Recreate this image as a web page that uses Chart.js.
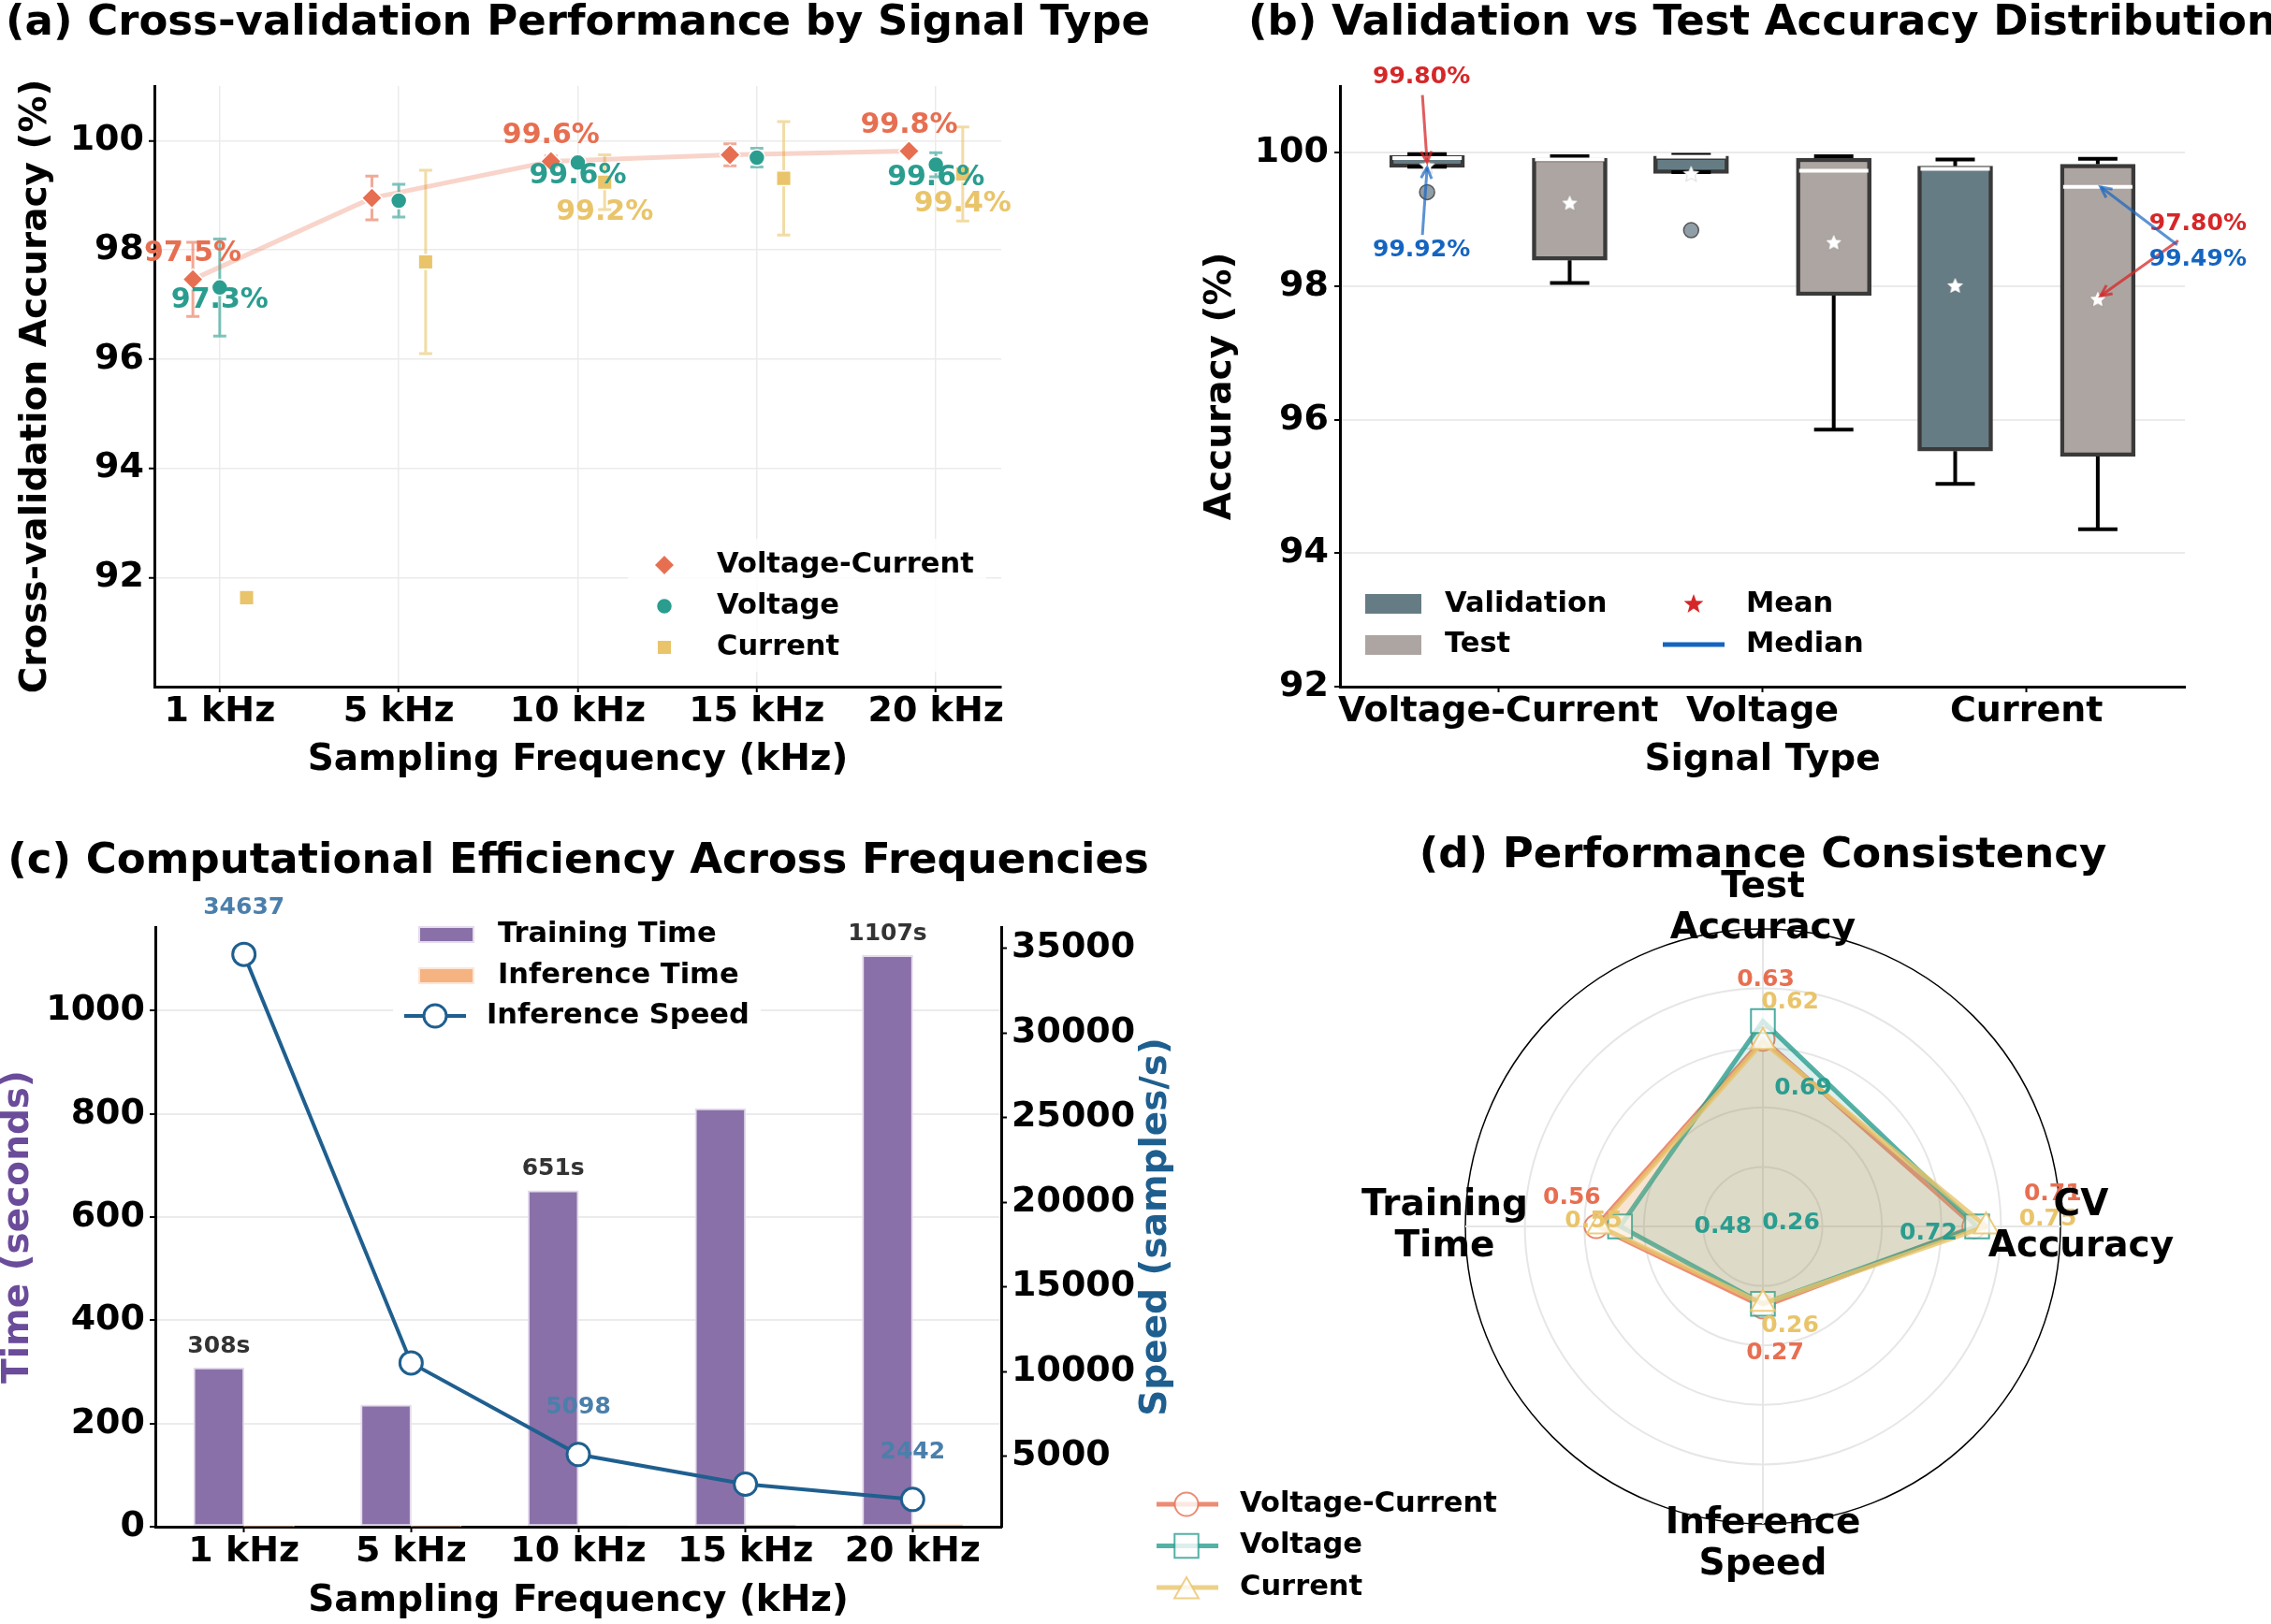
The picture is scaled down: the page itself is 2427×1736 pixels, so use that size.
<!DOCTYPE html>
<html lang="en">
<head>
<meta charset="utf-8">
<title>Signal type performance</title>
<script src="https://cdn.jsdelivr.net/npm/chart.js@4.4.1/dist/chart.umd.min.js"></script>
<style>
  html, body { margin: 0; padding: 0; background: #fff; }
  body { position: relative; width: 2427px; height: 1736px; overflow: hidden; }
  canvas { position: absolute; }
</style>
</head>
<body>
<canvas id="cvChart" width="1250" height="870" style="left:0;top:0"></canvas>
<canvas id="boxChart" width="1207" height="870" style="left:1220px;top:0"></canvas>
<canvas id="effChart" width="1280" height="856" style="left:0;top:880px"></canvas>
<canvas id="radarChart" width="1207" height="856" style="left:1220px;top:880px"></canvas>
<script>
// ---- data ----
const freqLabels = ['1 kHz', '5 kHz', '10 kHz', '15 kHz', '20 kHz'];
const signalTypes = ['Voltage-Current', 'Voltage', 'Current'];

// (a) cross-validation accuracy: mean and std per sampling frequency
const cvVoltageCurrent = [97.46, 98.95, 99.62, 99.74, 99.81];
const cvVoltageCurrentStd = [0.68, 0.40, 0.10, 0.20, 0.04];
const cvVoltage = [97.31, 98.90, 99.60, 99.69, 99.56];
const cvVoltageStd = [0.89, 0.30, 0.08, 0.17, 0.22];
const cvCurrent = [91.63, 97.78, 99.24, 99.31, 99.39];
const cvCurrentStd = [0, 1.68, 0.50, 1.04, 0.86];
const cvYTicks = [92, 94, 96, 98, 100];

// (b) box statistics per signal type
const valWhiskerLow = [99.79, 99.71, 95.04];
const valQ1 = [99.78, 99.69, 95.53];
const valMedian = [99.92, 99.94, 99.76];
const valQ3 = [99.96, 99.95, 99.80];
const valWhiskerHigh = [99.98, 99.97, 99.90];
const valMean = [99.80, 99.68, 98.00];
const valOutliers = [[99.41], [98.84], []];
const testWhiskerLow = [98.05, 95.85, 94.36];
const testQ1 = [98.39, 97.86, 95.45];
const testMedian = [99.90, 99.73, 99.49];
const testQ3 = [99.92, 99.92, 99.83];
const testWhiskerHigh = [99.95, 99.95, 99.91];
const testMean = [99.24, 98.65, 97.80];
const accYTicks = [92, 94, 96, 98, 100];

// (c) computational cost per sampling frequency
const trainingTime = [308, 236, 651, 810, 1107];
const inferenceTime = [0.9, 1.2, 2.1, 2.9, 4.3];
const inferenceSpeed = [34637, 10506, 5098, 3347, 2442];
const timeTicks = [0, 200, 400, 600, 800, 1000];
const speedTicks = [5000, 10000, 15000, 20000, 25000, 30000, 35000];

// (d) normalised consistency scores
const radarAxes = [['Test', 'Accuracy'], ['CV', 'Accuracy'], ['Inference', 'Speed'], ['Training', 'Time']];
const radarVoltageCurrent = [0.63, 0.71, 0.27, 0.56];
const radarVoltage = [0.69, 0.72, 0.26, 0.48];
const radarCurrent = [0.62, 0.75, 0.26, 0.55];

// ---- shared setup ----
const FONT = 'DejaVu Sans';
Chart.defaults.font.family = FONT;
Chart.defaults.font.weight = 'bold';
Chart.defaults.color = '#000';
Chart.defaults.animation = false;
Chart.defaults.responsive = false;
Chart.defaults.plugins.legend.display = false;
Chart.defaults.plugins.tooltip.enabled = false;

const GRID = '#ebebeb';
const TICK_FONT = { size: 38, lineHeight: 1.1 };
const COL_VC = '#E76F51', COL_V = '#2A9D8F', COL_C = '#E9C46A';
const rgba = (hex, a) => {
  const n = parseInt(hex.slice(1), 16);
  return `rgba(${n >> 16},${(n >> 8) & 255},${n & 255},${a})`;
};
const font = size => `bold ${size}px "${FONT}"`;
const fixedTicks = values => s => { s.ticks = values.map(v => ({ value: v })); };
const plain = v => String(v);

function drawMarker(ctx, style, radius, x, y, fill, stroke, lw) {
  ctx.save();
  ctx.fillStyle = fill;
  ctx.strokeStyle = stroke;
  ctx.lineWidth = lw;
  Chart.helpers.drawPoint(ctx, { pointStyle: style, radius, borderWidth: lw, rotation: 0 }, x, y);
  ctx.restore();
}

function starPath(ctx, cx, cy, outer, inner) {
  ctx.beginPath();
  for (let k = 0; k < 10; k++) {
    const r = k % 2 ? inner : outer;
    const a = -Math.PI / 2 + k * Math.PI / 5;
    ctx.lineTo(cx + r * Math.cos(a), cy + r * Math.sin(a));
  }
  ctx.closePath();
}

function starImage(size) {
  const c = document.createElement('canvas');
  c.width = c.height = size;
  const g = c.getContext('2d');
  starPath(g, size / 2, size / 2, size * 0.47, size * 0.22);
  g.fillStyle = '#fff';
  g.fill();
  g.strokeStyle = 'rgba(0,0,0,0.15)';
  g.lineWidth = 1;
  g.stroke();
  return c;
}

function text(ctx, str, x, y, size, color, align) {
  ctx.font = font(size);
  ctx.fillStyle = color;
  ctx.textAlign = align || 'center';
  ctx.textBaseline = 'middle';
  ctx.fillText(str, x, y);
}

function arrow(ctx, x0, y0, x1, y1, color) {
  ctx.strokeStyle = color;
  ctx.lineWidth = 3;
  ctx.beginPath();
  ctx.moveTo(x0, y0);
  ctx.lineTo(x1, y1);
  ctx.stroke();
  const a = Math.atan2(y1 - y0, x1 - x0), L = 13;
  ctx.beginPath();
  ctx.moveTo(x1 - L * Math.cos(a - 0.45), y1 - L * Math.sin(a - 0.45));
  ctx.lineTo(x1, y1);
  ctx.lineTo(x1 - L * Math.cos(a + 0.45), y1 - L * Math.sin(a + 0.45));
  ctx.stroke();
}

// title centred over the plot area
const panelTitle = {
  id: 'panelTitle',
  afterDraw(chart, _args, opts) {
    const { ctx, chartArea } = chart;
    ctx.save();
    text(ctx, opts.text, (chartArea.left + chartArea.right) / 2, opts.y, 45, '#000');
    ctx.restore();
  }
};

// ---- (a) cross-validation performance ----
const toPts = (vals, off) => vals.map((v, i) => ({ x: i + off, y: v }));

const errorBars = {
  id: 'errorBars',
  beforeDatasetsDraw(chart) {
    const { ctx, scales: { x, y } } = chart;
    ctx.save();
    ctx.lineWidth = 3;
    chart.data.datasets.forEach(ds => {
      if (!ds.errors) return;
      ctx.strokeStyle = rgba(ds.color, 0.6);
      ds.data.forEach((p, i) => {
        const e = ds.errors[i];
        if (!e) return;
        const px = x.getPixelForValue(p.x);
        const top = y.getPixelForValue(p.y + e);
        const bot = y.getPixelForValue(p.y - e);
        ctx.beginPath();
        ctx.moveTo(px, top); ctx.lineTo(px, bot);
        ctx.moveTo(px - 7, top); ctx.lineTo(px + 7, top);
        ctx.moveTo(px - 7, bot); ctx.lineTo(px + 7, bot);
        ctx.stroke();
      });
    });
    ctx.restore();
  }
};

const cvLabelsAndLegend = {
  id: 'cvLabelsAndLegend',
  afterDatasetsDraw(chart) {
    const { ctx, scales: { x, y } } = chart;
    ctx.save();
    const series = chart.data.datasets.filter(ds => ds.errors);
    series.forEach(ds => {
      ds.labelIdx.forEach(i => {
        const p = ds.data[i];
        text(ctx, p.y.toFixed(1) + '%', x.getPixelForValue(p.x), y.getPixelForValue(p.y) + ds.labelDy, 30, ds.color);
      });
    });
    // legend
    ctx.fillStyle = 'rgba(255,255,255,0.85)';
    ctx.fillRect(671, 576, 383, 142);
    series.forEach((ds, k) => {
      const ly = 604 + k * 44;
      drawMarker(ctx, ds.pointStyle, ds.pointRadius, 710, ly, ds.backgroundColor, '#fff', 1.5);
      text(ctx, ds.label, 766, ly, 30.5, '#000', 'left');
    });
    ctx.restore();
  }
};

new Chart(document.getElementById('cvChart'), {
  type: 'scatter',
  data: {
    datasets: [
      { label: 'trend', data: toPts(cvVoltageCurrent, -0.15), showLine: true, borderColor: rgba(COL_VC, 0.3), borderWidth: 5, pointRadius: 0, order: 5 },
      { label: 'Voltage-Current', data: toPts(cvVoltageCurrent, -0.15), errors: cvVoltageCurrentStd, color: COL_VC,
        pointStyle: 'rectRot', pointRadius: 11, backgroundColor: COL_VC, borderColor: '#fff', borderWidth: 1.5, labelIdx: [0, 2, 4], labelDy: -27 },
      { label: 'Voltage', data: toPts(cvVoltage, 0), errors: cvVoltageStd, color: COL_V,
        pointStyle: 'circle', pointRadius: 8.5, backgroundColor: COL_V, borderColor: '#fff', borderWidth: 1.5, labelIdx: [0, 2, 4], labelDy: 14 },
      { label: 'Current', data: toPts(cvCurrent, 0.15), errors: cvCurrentStd, color: COL_C,
        pointStyle: 'rect', pointRadius: 11, backgroundColor: COL_C, borderColor: '#fff', borderWidth: 1.5, labelIdx: [2, 4], labelDy: 32 }
    ]
  },
  options: {
    layout: { padding: { left: 0, right: 180, top: 92, bottom: 0 } },
    scales: {
      x: {
        type: 'linear', min: -0.365, max: 4.365,
        afterBuildTicks: fixedTicks([0, 1, 2, 3, 4]),
        afterFit: s => { s.height = 136; },
        ticks: { callback: v => freqLabels[v], font: TICK_FONT, padding: 0, maxRotation: 0, autoSkip: false },
        grid: { color: GRID, lineWidth: 1.5, tickColor: '#000', tickLength: 6, tickWidth: 2 },
        border: { color: '#000', width: 3 },
        title: { display: true, text: 'Sampling Frequency (kHz)', font: { size: 39 }, padding: { top: 0, bottom: 34 } }
      },
      y: {
        min: 90, max: 101,
        afterBuildTicks: fixedTicks(cvYTicks),
        afterFit: s => { s.width = 165; },
        ticks: { callback: plain, font: TICK_FONT, padding: 5 },
        grid: { color: GRID, lineWidth: 1.5, tickColor: '#000', tickLength: 6, tickWidth: 2 },
        border: { color: '#000', width: 3 },
        title: { display: true, text: 'Cross-validation Accuracy (%)', font: { size: 39 }, padding: { top: 15.6, bottom: 0 } }
      }
    },
    plugins: { panelTitle: { text: '(a) Cross-validation Performance by Signal Type', y: 25 } }
  },
  plugins: [panelTitle, errorBars, cvLabelsAndLegend]
});

// ---- (b) validation vs test distribution ----
const BOX_OFF = 0.27;
const COL_VAL = '#667c85', COL_TEST = '#ada5a1';
const boxes = [
  ...valQ1.map((q, i) => ({ x: i - BOX_OFF, lo: valWhiskerLow[i], q1: q, med: valMedian[i], q3: valQ3[i], hi: valWhiskerHigh[i] })),
  ...testQ1.map((q, i) => ({ x: i + BOX_OFF, lo: testWhiskerLow[i], q1: q, med: testMedian[i], q3: testQ3[i], hi: testWhiskerHigh[i] }))
];
const outlierPts = [];
valOutliers.forEach((list, i) => list.forEach(v => outlierPts.push({ x: i - BOX_OFF, y: v })));

const boxExtras = {
  id: 'boxExtras',
  afterDatasetDraw(chart, args) {
    if (args.index !== 0) return;
    const { ctx, scales: { x, y } } = chart;
    ctx.save();
    boxes.forEach(b => {
      const px = x.getPixelForValue(b.x);
      const yLo = y.getPixelForValue(b.lo), yHi = y.getPixelForValue(b.hi);
      const yQ1 = y.getPixelForValue(b.q1), yQ3 = y.getPixelForValue(b.q3);
      ctx.strokeStyle = '#000';
      ctx.lineWidth = 4;
      ctx.beginPath();
      ctx.moveTo(px, yQ3); ctx.lineTo(px, yHi);
      ctx.moveTo(px, yQ1); ctx.lineTo(px, yLo);
      ctx.moveTo(px - 21, yHi); ctx.lineTo(px + 21, yHi);
      ctx.moveTo(px - 21, yLo); ctx.lineTo(px + 21, yLo);
      ctx.stroke();
      ctx.strokeStyle = '#fff';
      const yMed = y.getPixelForValue(b.med);
      ctx.beginPath();
      ctx.moveTo(px - 37, yMed); ctx.lineTo(px + 37, yMed);
      ctx.stroke();
    });
    ctx.restore();
  }
};

const boxNotes = {
  id: 'boxNotes',
  afterDraw(chart) {
    const { ctx, scales: { x, y } } = chart;
    const red = '#d62728', blue = '#1565c0';
    const notes = [
      { bx: -BOX_OFF, v: valMean[0], color: red, line: 'rgba(214,39,40,0.75)', t: [-6, -95], s: [-5, -76], e: [0, -4] },
      { bx: -BOX_OFF, v: valMedian[0], color: blue, line: 'rgba(21,101,192,0.7)', t: [-6, 98], s: [-5, 82], e: [0, 10] },
      { bx: 2 + BOX_OFF, v: testMean[2], color: red, line: 'rgba(214,39,40,0.75)', t: [107, -81], s: [86, -63], e: [3, -4] },
      { bx: 2 + BOX_OFF, v: testMedian[2], color: blue, line: 'rgba(21,101,192,0.7)', t: [107, 78], s: [85, 62], e: [3, 0] }
    ];
    ctx.save();
    notes.forEach(n => {
      const px = x.getPixelForValue(n.bx), py = y.getPixelForValue(n.v);
      arrow(ctx, px + n.s[0], py + n.s[1], px + n.e[0], py + n.e[1], n.line);
      text(ctx, n.v.toFixed(2) + '%', px + n.t[0], py + n.t[1], 25, n.color);
    });
    // legend
    ctx.fillStyle = COL_VAL; ctx.fillRect(239, 635, 60, 21);
    ctx.fillStyle = COL_TEST; ctx.fillRect(239, 679, 60, 21);
    text(ctx, 'Validation', 324, 646, 30.5, '#000', 'left');
    text(ctx, 'Test', 324, 689, 30.5, '#000', 'left');
    starPath(ctx, 590, 646, 11, 4.6);
    ctx.fillStyle = red; ctx.fill();
    ctx.strokeStyle = blue; ctx.lineWidth = 5;
    ctx.beginPath(); ctx.moveTo(557, 689); ctx.lineTo(623, 689); ctx.stroke();
    text(ctx, 'Mean', 646, 646, 30.5, '#000', 'left');
    text(ctx, 'Median', 646, 689, 30.5, '#000', 'left');
    ctx.restore();
  }
};

new Chart(document.getElementById('boxChart'), {
  type: 'bar',
  data: {
    datasets: [
      { label: 'Validation', data: valQ1.map((q, i) => ({ x: i - BOX_OFF, y: [q, valQ3[i]] })), backgroundColor: COL_VAL,
        borderColor: '#3a3a3a', borderWidth: 4.5, borderSkipped: false, barThickness: 80, grouped: false, order: 1 },
      { label: 'Test', data: testQ1.map((q, i) => ({ x: i + BOX_OFF, y: [q, testQ3[i]] })), backgroundColor: COL_TEST,
        borderColor: '#3a3a3a', borderWidth: 4.5, borderSkipped: false, barThickness: 80, grouped: false, order: 1 },
      { type: 'scatter', label: 'outliers', data: outlierPts, pointRadius: 8, backgroundColor: '#8f9ea7', borderColor: '#555', borderWidth: 1.5, order: 0 },
      { type: 'scatter', label: 'Mean', data: [...valMean.map((v, i) => ({ x: i - BOX_OFF, y: v })), ...testMean.map((v, i) => ({ x: i + BOX_OFF, y: v }))],
        pointStyle: starImage(20), pointRadius: 10, order: 0 }
    ]
  },
  options: {
    layout: { padding: { left: 0, right: 92, top: 92, bottom: 0 } },
    scales: {
      x: {
        type: 'linear', min: -0.6, max: 2.6, offset: false,
        afterBuildTicks: fixedTicks([0, 1, 2]),
        afterFit: s => { s.height = 136; },
        ticks: { callback: v => signalTypes[v], font: TICK_FONT, padding: 0, maxRotation: 0, minRotation: 0, autoSkip: false },
        grid: { drawOnChartArea: false, offset: false, tickColor: '#000', tickLength: 6, tickWidth: 2 },
        border: { color: '#000', width: 3 },
        title: { display: true, text: 'Signal Type', font: { size: 39 }, padding: { top: 0, bottom: 34 } }
      },
      y: {
        min: 92, max: 101,
        afterBuildTicks: fixedTicks(accYTicks),
        afterFit: s => { s.width = 212; },
        ticks: { callback: plain, font: TICK_FONT, padding: 6 },
        grid: { color: GRID, lineWidth: 2, tickColor: '#000', tickLength: 6, tickWidth: 2 },
        border: { color: '#000', width: 3 },
        title: { display: true, text: 'Accuracy (%)', font: { size: 39 }, padding: { top: 61, bottom: 0 } }
      }
    },
    plugins: { panelTitle: { text: '(b) Validation vs Test Accuracy Distribution', y: 25 } }
  },
  plugins: [panelTitle, boxExtras, boxNotes]
});

// ---- (c) computational efficiency ----
const COL_TRAIN = '#8a70a8', COL_INF = '#f6b382', COL_SPEED = '#1f5f8f';
const annotatedIdx = [0, 2, 4];

const effExtras = {
  id: 'effExtras',
  afterDatasetsDraw(chart) {
    const { ctx, scales: { x, y, y2 } } = chart;
    ctx.save();
    annotatedIdx.forEach(i => {
      text(ctx, trainingTime[i] + 's', x.getPixelForValue(i - 0.15), y.getPixelForValue(trainingTime[i]) - 23, 25, '#333');
      text(ctx, String(inferenceSpeed[i]), x.getPixelForValue(i), y2.getPixelForValue(inferenceSpeed[i]) - 50, 25, '#4a7fab');
    });
    // legend
    ctx.fillStyle = 'rgba(255,255,255,0.9)';
    ctx.fillRect(420, 95, 393, 133);
    ctx.lineWidth = 2;
    ctx.fillStyle = COL_TRAIN; ctx.strokeStyle = '#e3dcec';
    ctx.fillRect(448, 111, 58, 16); ctx.strokeRect(448, 111, 58, 16);
    ctx.fillStyle = COL_INF; ctx.strokeStyle = '#fde6d6';
    ctx.fillRect(448, 155, 58, 16); ctx.strokeRect(448, 155, 58, 16);
    ctx.strokeStyle = COL_SPEED; ctx.lineWidth = 4;
    ctx.beginPath(); ctx.moveTo(432, 206); ctx.lineTo(498, 206); ctx.stroke();
    drawMarker(ctx, 'circle', 12, 465, 206, '#fff', COL_SPEED, 3);
    text(ctx, 'Training Time', 532, 119, 30.5, '#000', 'left');
    text(ctx, 'Inference Time', 532, 163, 30.5, '#000', 'left');
    text(ctx, 'Inference Speed', 520, 206, 30.5, '#000', 'left');
    // right axis title reads bottom-to-top
    ctx.translate(1236, (chart.chartArea.top + chart.chartArea.bottom) / 2);
    ctx.rotate(-Math.PI / 2);
    text(ctx, 'Speed (samples/s)', 0, 0, 39, COL_SPEED);
    ctx.restore();
  }
};

new Chart(document.getElementById('effChart'), {
  type: 'bar',
  data: {
    datasets: [
      { type: 'line', label: 'Inference Speed', data: inferenceSpeed.map((v, i) => ({ x: i, y: v })), yAxisID: 'y2',
        borderColor: COL_SPEED, borderWidth: 4, pointRadius: 12, pointBackgroundColor: '#fff', pointBorderColor: COL_SPEED, pointBorderWidth: 3, order: 0 },
      { label: 'Training Time', data: trainingTime.map((v, i) => ({ x: i - 0.15, y: v })), yAxisID: 'y',
        backgroundColor: COL_TRAIN, borderColor: '#e3dcec', borderWidth: 2, borderSkipped: false, barThickness: 54, grouped: false, order: 1 },
      { label: 'Inference Time', data: inferenceTime.map((v, i) => ({ x: i + 0.15, y: v })), yAxisID: 'y',
        backgroundColor: COL_INF, borderColor: '#fde6d6', borderWidth: 1, borderSkipped: false, barThickness: 54, grouped: false, order: 1 }
    ]
  },
  options: {
    layout: { padding: { left: 0, right: 0, top: 111, bottom: 0 } },
    scales: {
      x: {
        type: 'linear', min: -0.53, max: 4.53, offset: false,
        afterBuildTicks: fixedTicks([0, 1, 2, 3, 4]),
        afterFit: s => { s.height = 104; },
        ticks: { callback: v => freqLabels[v], font: TICK_FONT, padding: 0, maxRotation: 0, minRotation: 0, autoSkip: false },
        grid: { drawOnChartArea: false, offset: false, tickColor: '#000', tickLength: 6, tickWidth: 2 },
        border: { color: '#000', width: 3 },
        title: { display: true, text: 'Sampling Frequency (kHz)', font: { size: 39 }, padding: { top: 0, bottom: 0.6 } }
      },
      y: {
        position: 'left', min: 0, max: 1162,
        afterBuildTicks: fixedTicks(timeTicks),
        afterFit: s => { s.width = 166; },
        ticks: { callback: plain, font: TICK_FONT, padding: 5 },
        grid: { color: GRID, lineWidth: 2, tickColor: '#000', tickLength: 6, tickWidth: 2 },
        border: { color: '#000', width: 3 },
        title: { display: true, text: 'Time (seconds)', color: '#6b4c9a', font: { size: 39, lineHeight: 1 }, padding: { top: 0, bottom: 0 } }
      },
      y2: {
        position: 'right', min: 832, max: 36247,
        afterBuildTicks: fixedTicks(speedTicks),
        afterFit: s => { s.width = 210; },
        ticks: { callback: plain, font: TICK_FONT, padding: 5 },
        grid: { drawOnChartArea: false, tickColor: '#000', tickLength: 6, tickWidth: 2 },
        border: { color: '#000', width: 3 }
      }
    },
    plugins: { panelTitle: { text: '(c) Computational Efficiency Across Frequencies', y: 41 } }
  },
  plugins: [panelTitle, effExtras]
});

// ---- (d) radar ----
// pixel offsets of each value label from its point: [Test, CV, Inference, Training]
const RADAR_LABEL_OFFSETS = [
  [[3, -63], [84, -35], [13, 50], [-26, -31]],
  [[43, 72], [-52, 7], [30, -86], [110, 0]],
  [[29, -42], [66, -8], [29, 24], [-6, -6]]
];
const radarSeries = [
  { label: 'Voltage-Current', data: radarVoltageCurrent, color: COL_VC, style: 'circle', radius: 12.5, order: 3 },
  { label: 'Voltage', data: radarVoltage, color: COL_V, style: 'rect', radius: 18, order: 2 },
  { label: 'Current', data: radarCurrent, color: COL_C, style: 'triangle', radius: 15, order: 1 }
];

const radarExtras = {
  id: 'radarExtras',
  afterDatasetsDraw(chart) {
    const { ctx } = chart;
    const r = chart.scales.r;
    ctx.save();
    chart.data.datasets.forEach((ds, d) => {
      ds.data.forEach((v, i) => {
        const p = r.getPointPositionForValue(i, v);
        const [dx, dy] = RADAR_LABEL_OFFSETS[d][i];
        text(ctx, v.toFixed(2), p.x + dx, p.y + dy, 25, ds.labelColor);
      });
    });
    ctx.restore();
  },
  afterDraw(chart) {
    const { ctx } = chart;
    const r = chart.scales.r;
    ctx.save();
    radarAxes.forEach((lines, i) => {
      const p = r.getPointPosition(i, r.drawingArea + 22);
      lines.forEach((t, k) => text(ctx, t, p.x, p.y + (k - (lines.length - 1) / 2) * 44, 39, '#000'));
    });
    text(ctx, '(d) Performance Consistency', r.xCenter, 35, 45, '#000');
    // legend
    radarSeries.forEach((s, k) => {
      const ly = 728 + k * 44.5;
      ctx.strokeStyle = rgba(s.color, 0.8);
      ctx.lineWidth = 5;
      ctx.beginPath(); ctx.moveTo(16, ly); ctx.lineTo(82, ly); ctx.stroke();
      drawMarker(ctx, s.style, s.radius, 48, ly + (s.style === 'triangle' ? 4 : 0), 'rgba(255,255,255,0.8)', rgba(s.color, 0.8), 2);
      text(ctx, s.label, 105, ly, 30.5, '#000', 'left');
    });
    ctx.restore();
  }
};

new Chart(document.getElementById('radarChart'), {
  type: 'radar',
  data: {
    labels: radarAxes.map(l => l.join(' ')),
    datasets: radarSeries.map(s => ({
      label: s.label, data: s.data, order: s.order, labelColor: s.color,
      borderColor: rgba(s.color, 0.8), borderWidth: 5, backgroundColor: rgba(s.color, 0.15), fill: true,
      pointStyle: s.style, pointRadius: s.radius, pointBackgroundColor: 'rgba(255,255,255,0.75)',
      pointBorderColor: rgba(s.color, 0.85), pointBorderWidth: 2
    }))
  },
  options: {
    layout: { padding: { left: 346, right: 225, top: 113, bottom: 107 } },
    scales: {
      r: {
        min: 0, max: 1,
        ticks: { display: false, stepSize: 0.2 },
        grid: {
          circular: true,
          color: c => (c.tick && c.tick.value > 0.99 ? '#000' : '#e6e6e6'),
          lineWidth: c => (c.tick && c.tick.value > 0.99 ? 1.5 : 2)
        },
        angleLines: { color: '#e6e6e6', lineWidth: 2 },
        pointLabels: { display: false }
      }
    }
  },
  plugins: [radarExtras]
});
</script>
</body>
</html>
